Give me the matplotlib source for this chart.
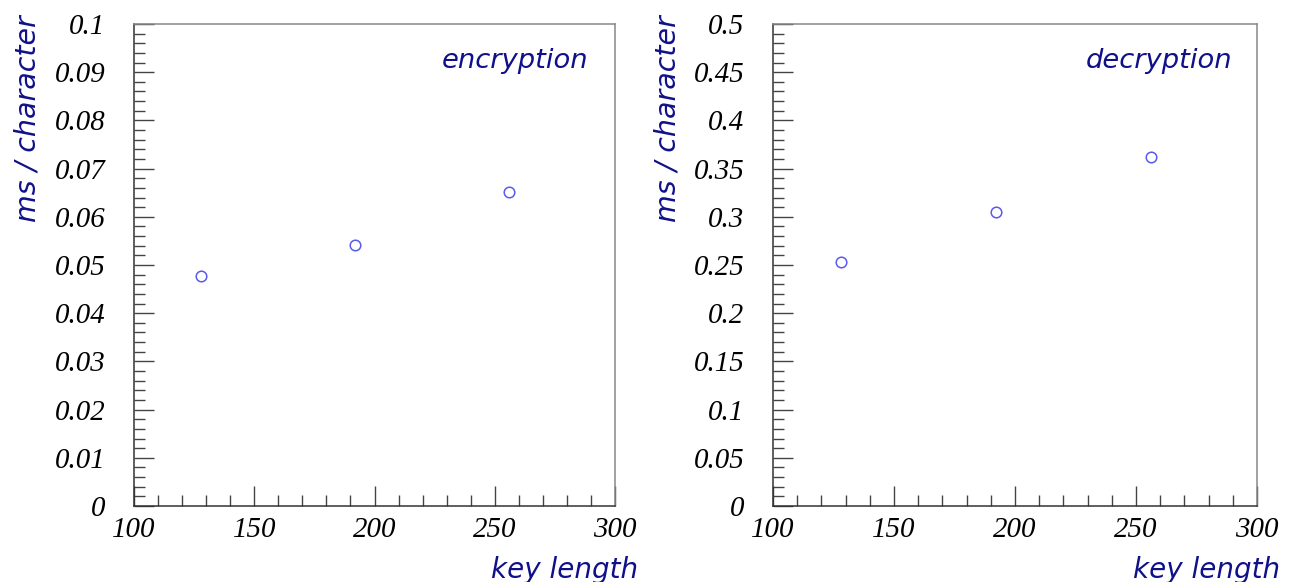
import matplotlib
matplotlib.use("Agg")
import matplotlib.pyplot as plt
from matplotlib.ticker import MultipleLocator, FuncFormatter

key_length = [128, 192, 256]
enc_ms = [0.0478, 0.0541, 0.0651]
dec_ms = [0.253, 0.305, 0.362]

xlim = (100, 300)
enc_ylim = (0, 0.1)
dec_ylim = (0, 0.5)
ylabel = "ms / character"
xlabel = "key length"
panel_titles = ["encryption", "decryption"]

plt.rcParams["font.family"] = ["Liberation Serif"]
plt.rcParams["font.style"] = "italic"
plt.rcParams["xtick.labelsize"] = 20.8
plt.rcParams["ytick.labelsize"] = 20.8

W, H = 1296, 582
fig = plt.figure(figsize=(W / 100, H / 100), dpi=100)

navy = "#10108a"
marker_col = "#5a5aee"

def fmt(v, pos):
    s = ("%.3f" % v).rstrip("0").rstrip(".")
    return s if s else "0"

def make_axes(left_px, right_px, ydata, ylim, ymaj, ymin, title, title_x_px):
    ax = fig.add_axes([left_px / W, (H - 506) / H, (right_px - left_px) / W, 482 / H])
    ax.plot(key_length, ydata, linestyle="none", marker="o", markersize=7.6,
            markerfacecolor="none", markeredgecolor=marker_col, markeredgewidth=1.1)
    ax.set_xlim(*xlim)
    ax.set_ylim(*ylim)
    ax.xaxis.set_major_locator(MultipleLocator(50))
    ax.xaxis.set_minor_locator(MultipleLocator(10))
    ax.yaxis.set_major_locator(MultipleLocator(ymaj))
    ax.yaxis.set_minor_locator(MultipleLocator(ymin))
    ax.yaxis.set_major_formatter(FuncFormatter(fmt))
    ax.xaxis.set_major_formatter(FuncFormatter(fmt))
    ax.tick_params(axis="both", which="both", direction="in", top=False, right=False,
                   color="#444444", width=1.0)
    ax.tick_params(axis="both", which="major", length=14.5)
    ax.tick_params(axis="both", which="minor", length=8)
    ax.tick_params(axis="y", which="major", pad=20.5)
    ax.tick_params(axis="x", which="major", pad=8)
    for side in ["left", "bottom"]:
        ax.spines[side].set_color("#333333")
        ax.spines[side].set_linewidth(1.1)
    for side in ["top", "right"]:
        ax.spines[side].set_color("#888888")
        ax.spines[side].set_linewidth(1.1)
    fig.text((left_px - 120) / W, (H - 15) / H, ylabel, rotation=90, ha="left", va="top",
             fontsize=20.5, style="italic", color=navy, family="DejaVu Sans")
    fig.text((right_px + 23) / W, (H - 578) / H, xlabel, ha="right", va="baseline",
             fontsize=20, style="italic", color=navy, family="DejaVu Sans")
    fig.text(title_x_px / W, (H - 68) / H, title, ha="right", va="baseline",
             fontsize=19.7, style="italic", color=navy, family="DejaVu Sans")
    return ax

make_axes(134, 615, enc_ms, enc_ylim, 0.01, 0.002, panel_titles[0], 588)
make_axes(773, 1257, dec_ms, dec_ylim, 0.05, 0.01, panel_titles[1], 1232)

fig.savefig("out.png", dpi=100, facecolor="white")
